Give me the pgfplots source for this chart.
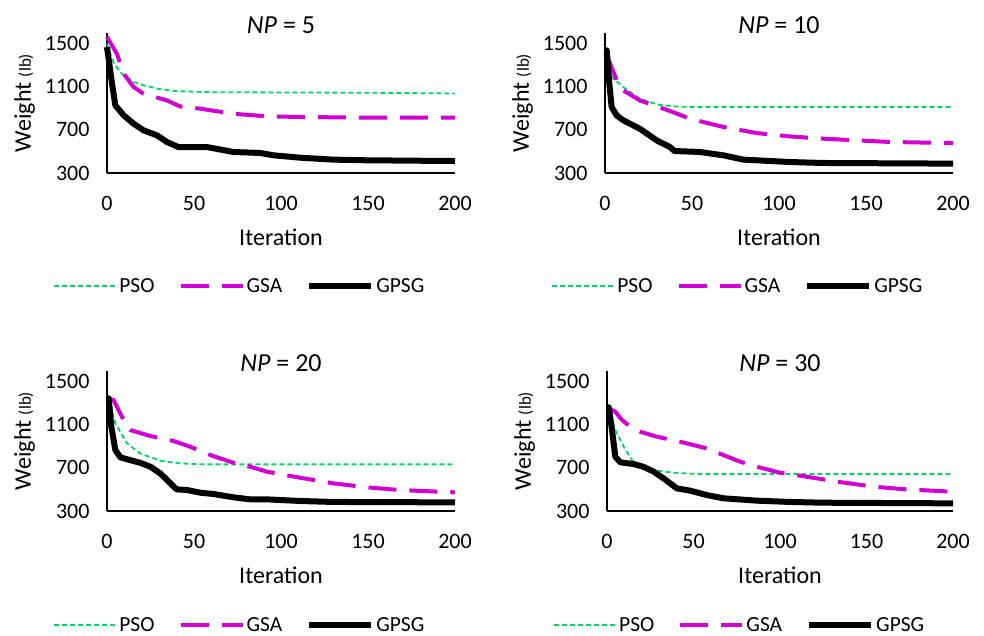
\documentclass[border=0pt]{standalone}
\usepackage{pgfplots}
\pgfplotsset{compat=1.18}
\usepackage{fontspec}
\setmainfont{Carlito}
\definecolor{psoc}{RGB}{0,214,100}
\definecolor{gsac}{RGB}{210,0,210}
\pgfplotsset{
  panel/.style={
    scale only axis, width=348pt, height=140pt,
    xmin=0, xmax=200, ymin=300, ymax=1600,
    axis lines*=left, axis line style={line width=1.3pt, black},
    xtick={0,50,100,150,200}, ytick={300,700,1100,1500},
    major tick length=0pt,
    /pgf/number format/assume math mode=true,
    /pgf/number format/1000 sep={},
    tick label style={font=\fontsize{22}{26}\selectfont},
    xticklabel style={yshift=-20pt},
    yticklabel style={xshift=-14pt},
    xlabel={Iteration},
    xlabel style={font=\fontsize{24}{28}\selectfont, yshift=-11pt},
    ylabel={Weight {\fontsize{17}{20}\selectfont(lb)}},
    ylabel style={font=\fontsize{24}{28}\selectfont, yshift=3pt},
    title style={font=\fontsize{26}{30}\selectfont, yshift=-10pt},
    legend columns=3,
    legend style={draw=none, fill=none, font=\fontsize{21.5}{25}\selectfont,
      /tikz/every even column/.append style={column sep=22pt}},
    legend image code/.code={\draw[##1] (0pt,0pt) -- (62pt,0pt);},
    clip=false,
  },
  psos/.style={color=psoc, line width=1.8pt, dash pattern=on 5pt off 3pt},
  gsas/.style={color=gsac, line width=4pt, dash pattern=on 28pt off 13pt},
  gpsgs/.style={color=black, line width=6pt, line join=round},
}
\begin{document}
\begin{tikzpicture}
\path[use as bounding box] (0pt,0pt) rectangle (984pt,636pt);
% NP = 5
\begin{axis}[panel, at={(107pt,463pt)}, anchor=south west, title={\textit{NP} = 5},
  legend style={at={(0.382,-0.807)}, anchor=center}]
\addplot[psos] coordinates {(0,1500)(2,1400)(4,1320)(8,1230)(12,1180)(16,1140)(22,1110)(30,1080)(40,1060)(60,1050)(100,1048)(150,1045)(190,1040)(200,1038)};
\addplot[gsas] coordinates {(0,1560)(1,1537)(3,1480)(5.7,1407)(9.6,1222)(15.3,1098)(21,1036)(34.4,974)(42,918)(53.6,897)(72.7,850)(91.9,826)(111,820)(150,814)(200,813)};
\addplot[gpsgs] coordinates {(0,1469)(2.9,1129)(4.8,928)(9.6,835)(15.3,758)(21,696)(28.7,650)(34.4,588)(41,541)(57.4,541)(72.7,495)(88,486)(95.7,464)(111,442)(130,424)(149,418)(200,411)};
\legend{PSO,GSA,GPSG}
\end{axis}
% NP = 10
\begin{axis}[panel, at={(605pt,463pt)}, anchor=south west, title={\textit{NP} = 10},
  legend style={at={(0.382,-0.807)}, anchor=center}]
\addplot[psos] coordinates {(0,1420)(2,1300)(3.8,1191)(10.5,1098)(20,990)(29.7,937)(39,919)(50,912)(100,912)(200,912)};
\addplot[gsas] coordinates {(0,1400)(1.9,1361)(6.7,1160)(10.5,1067)(20,974)(29.7,919)(39,866)(48.8,804)(68,727)(87,671)(106,640)(125,619)(144.5,603)(163.6,588)(200,578)};
\addplot[gpsgs] coordinates {(0,1440)(1,1438)(2.5,1129)(3.8,912)(6.7,835)(10.5,789)(20,711)(29.7,603)(37.3,541)(40,504)(54.5,495)(68,464)(79.5,424)(87,418)(106,402)(125,393)(200,387)};
\legend{PSO,GSA,GPSG}
\end{axis}
% NP = 20
\begin{axis}[panel, at={(107pt,125pt)}, anchor=south west, title={\textit{NP} = 20},
  legend style={at={(0.382,-0.814)}, anchor=center}]
\addplot[psos] coordinates {(0,1345)(1,1345)(4.8,1113)(11.5,928)(19,835)(30.6,767)(42,742)(55,733)(100,733)(200,733)};
\addplot[gsas] coordinates {(0,1345)(3.8,1330)(8.6,1175)(13.4,1052)(24.9,996)(38.3,950)(47.8,897)(61,810)(72.7,748)(82.3,711)(91.9,665)(111,609)(130,557)(149,520)(168,495)(200,473)};
\addplot[gpsgs] coordinates {(0,1345)(1,1345)(2.5,1083)(4.8,866)(7.7,798)(15.3,764)(19,748)(24.9,711)(30.6,650)(40,501)(46,495)(53.6,470)(61,458)(72.7,427)(82.3,408)(91.9,408)(111,393)(130,384)(200,380)};
\legend{PSO,GSA,GPSG}
\end{axis}
% NP = 30
\begin{axis}[panel, width=346pt, at={(607pt,125pt)}, anchor=south west, title={\textit{NP} = 30},
  legend style={at={(0.384,-0.814)}, anchor=center}]
\addplot[psos] coordinates {(0,1253)(1,1253)(4.8,1052)(9.6,897)(14.4,773)(19.2,696)(28.8,674)(38.5,656)(48,646)(60,643)(100,643)(200,643)};
\addplot[gsas] coordinates {(0,1253)(1,1253)(4.8,1222)(8.7,1144)(13.5,1083)(19.2,1036)(28.8,990)(42.3,943)(57.7,881)(67.3,819)(77,758)(86.5,711)(100,656)(115,619)(134.6,569)(154,526)(173,501)(200,479)};
\addplot[gpsgs] coordinates {(0,1262)(1,1262)(2.9,1052)(4.8,804)(7.7,752)(15.4,736)(21,711)(27,665)(32.7,603)(40.4,510)(48,489)(57.7,448)(67.3,418)(86.5,396)(105.8,384)(125,377)(200,371)};
\legend{PSO,GSA,GPSG}
\end{axis}
\end{tikzpicture}
\end{document}
